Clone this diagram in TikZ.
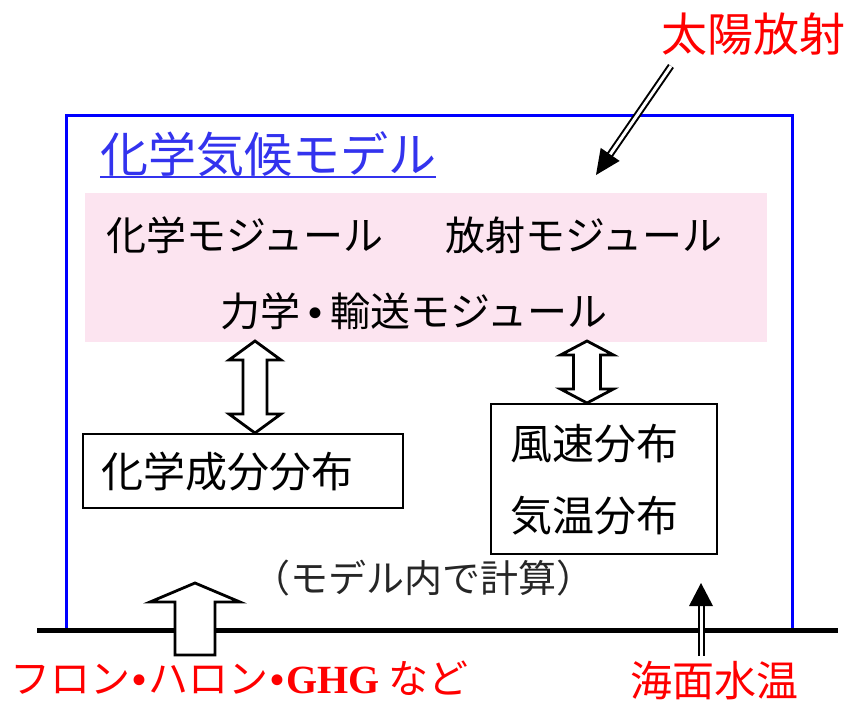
\documentclass[tikz,border=0pt]{standalone}
\usepackage{fontspec}
\setmainfont{Liberation Serif}
\newfontfamily\jp{Noto Sans CJK JP}
\usetikzlibrary{calc}
\definecolor{pinkbg}{RGB}{252,228,240}
\definecolor{titleblue}{RGB}{51,51,238}
\definecolor{redtxt}{RGB}{255,0,0}
\newcommand\fs[1]{\fontsize{#1}{#1}\selectfont}
\newcommand\bul[1]{\hspace{#1}{\rmfamily\bfseries •}\hspace{#1}}
\newcommand\vdblarrow[5]{%
  \draw[blockarr] (#1) -- ($(#1)+(#4,#5)$) -- ($(#1)+(#3,#5)$) -- ($(#2)+(#3,-#5)$)
   -- ($(#2)+(#4,-#5)$) -- (#2) -- ($(#2)+(-#4,-#5)$) -- ($(#2)+(-#3,-#5)$)
   -- ($(#1)+(-#3,#5)$) -- ($(#1)+(-#4,#5)$) -- cycle;}
\begin{document}
\begin{tikzpicture}[x=1pt,y=-1pt,
  txt/.style={inner sep=0pt, anchor=west, font=\jp\fs{#1}},
  redlabel/.style={txt=#1, text=redtxt},
  boxframe/.style={draw, line width=2pt, fill=white},
  blockarr/.style={draw, line width=2.8pt, fill=white, line join=miter},
  dblline/.style={draw, line width=2pt, double=white, double distance=3pt}]
\useasboundingbox (0,0) rectangle (853,704);

% pink module region
\node[fill=pinkbg, minimum width=682pt, minimum height=149pt, anchor=north west, inner sep=0pt] (pink) at (85,193) {};

% model frame
\draw[blue, line width=3pt] (66,630) -- (66,115) -- (792,115) -- (792,630);

% title
\node[txt=48, text=titleblue] (title) at (100,154) {化学気候モデル};
\draw[titleblue, line width=2pt] ($(title.base west)+(0,5)$) -- ($(title.base east)+(0,5)$);

% modules
\node[txt=40] (chem) at (106,235) {化学モジュール};
\node[txt=40] (rad) at (445,235) {放射モジュール};
\node[txt=40] (dyn) at (220,311) {力学\bul{8pt}輸送モジュール};

% output boxes
\node[boxframe, minimum width=320pt, minimum height=74pt, anchor=north west, inner sep=0pt] (compbox) at (82,433) {};
\node[txt=42] (comp) at (101,472) {化学成分分布};
\node[boxframe, minimum width=226pt, minimum height=150pt, anchor=north west, inner sep=0pt] (windbox) at (490,403) {};
\node[txt=42] (wind) at (510,444) {風速分布};
\node[txt=42] (temp) at (510,516) {気温分布};

% double arrows between modules and boxes
\coordinate (a1t) at (255,341);
\coordinate (a1b) at (compbox.north -| a1t);
\vdblarrow{a1t}{a1b}{12}{26}{19}
\coordinate (a2t) at (587,341);
\coordinate (a2b) at (windbox.north -| a2t);
\vdblarrow{a2t}{a2b}{13.5}{26.5}{14}

% note
\node[inner sep=0pt, font=\jp\fs{38}, text=black!85] (note) at (423,578) {（モデル内で計算）};

% ground line
\coordinate (gl) at (37,630);
\coordinate (gr) at (838,630);
\draw[line width=5pt] (gl) -- (gr);

% sun radiation
\node[redlabel=46] (sun) at (661,34) {太陽放射};
\coordinate (sunstart) at (671,66);
\coordinate (suntip) at (596,175);
\coordinate (sunhb) at ($(suntip)!25pt!(sunstart)$);
\draw[dblline] (sunstart) -- ($(suntip)!22pt!(sunstart)$);
\fill (suntip) -- ($(sunhb)!11.5pt!90:(sunstart)$) -- ($(sunhb)!11.5pt!-90:(sunstart)$) -- cycle;

% emissions block arrow
\coordinate (emtip) at (195,583);
\draw[blockarr] (emtip) -- (240,602) -- (215,602) -- (215,655) -- (175,655) -- (175,602) -- (150,602) -- cycle;
\node[redlabel=40] (emis) at (10,678) {フロン\bul{2pt}ハロン\bul{2pt}{\rmfamily\bfseries GHG} など};

% SST arrow
\coordinate (sstbot) at (701,656);
\coordinate (ssttip) at (701,583);
\coordinate (ssthb) at ($(ssttip)!23pt!(sstbot)$);
\draw[dblline] (sstbot) -- ($(ssttip)!20pt!(sstbot)$);
\fill (ssttip) -- ($(ssthb)!12pt!90:(sstbot)$) -- ($(ssthb)!12pt!-90:(sstbot)$) -- cycle;
\node[redlabel=42] (sst) at (630,681) {海面水温};
\end{tikzpicture}
\end{document}
